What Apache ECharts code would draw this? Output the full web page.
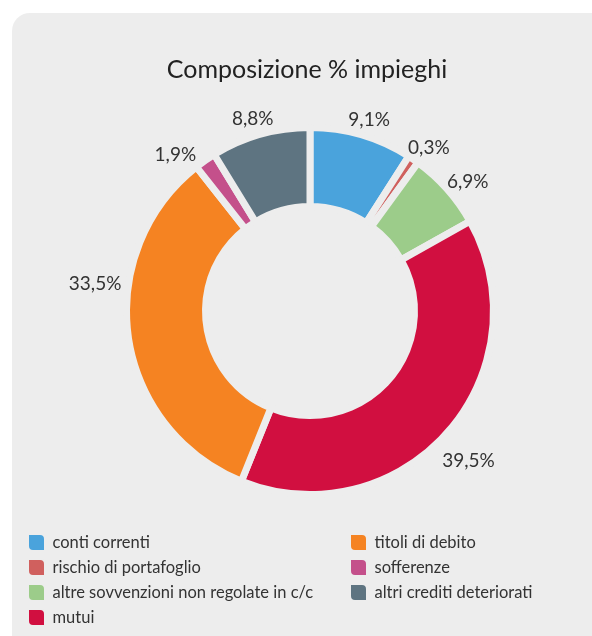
<!DOCTYPE html>
<html>
<head>
<meta charset="utf-8">
<script src="https://cdn.jsdelivr.net/npm/echarts@6/dist/echarts.min.js"></script>
<style>
html,body{margin:0;padding:0;background:#fff;}
#c{width:592px;height:636px;}
</style>
</head>
<body>
<div id="c"></div>
<script>
const titleText = 'Composizione % impieghi';
const categories = ['conti correnti','rischio di portafoglio','altre sovvenzioni non regolate in c/c','mutui','titoli di debito','sofferenze','altri crediti deteriorati'];
const values = [9.1, 0.3, 6.9, 39.5, 33.5, 1.9, 8.8];
const palette = ['#4aa3dc','#d0605e','#9ccc8a','#d10f40','#f58322','#c4508b','#5e7481'];

const FONT = 'Lato, "Open Sans", sans-serif';
const BG = '#ededed';
// label nudges (style only) reproducing the original label placement
const labelNudge = { 'titoli di debito': [-6, -57], 'sofferenze': [-14, 17] };
const data = categories.map((n, i) => ({ name: n, value: values[i], itemStyle: { color: palette[i] } }));
const leafIcon = 'path://M0,0 L12,0 Q17,0 17,5 L17,17 L5,17 Q0,17 0,12 Z';
const fmt = p => p.value.toFixed(1).replace('.', ',') + '%';

const chart = echarts.init(document.getElementById('c'), null, { renderer: 'canvas' });
const legendBase = {
  orient: 'vertical', top: 533, height: 120, padding: 0, itemGap: 6, itemWidth: 17, itemHeight: 17,
  icon: leafIcon, selectedMode: false,
  textStyle: { fontFamily: FONT, fontSize: 16.5, color: '#333', padding: [0, 0, 0, 2.5] }
};
chart.setOption({
  animation: false,
  graphic: [
    { type: 'rect', z: -10, shape: { x: 12, y: 13, width: 640, height: 700, r: 18 }, style: { fill: BG } },
    { type: 'text', z: 10, x: 307, y: 70, style: { text: titleText, align: 'center', verticalAlign: 'middle', fontFamily: FONT, fontSize: 25, fill: '#222' } }
  ],
  legend: [
    Object.assign({ left: 27, data: categories.slice(0, 4) }, legendBase),
    Object.assign({ left: 349, data: categories.slice(4) }, legendBase)
  ],
  series: [
    {
      type: 'pie', center: [310, 311], radius: [104.5, 183.5], startAngle: 90, clockwise: true,
      minAngle: 3.5, data: data, silent: true,
      itemStyle: { borderColor: BG, borderWidth: 7 },
      label: { show: false }, labelLine: { show: false }, emphasis: { disabled: true }
    },
    {
      type: 'pie', center: [310, 311], radius: [184, 232], startAngle: 90, clockwise: true,
      minAngle: 3.5, silent: true, legendHoverLink: false,
      data: data.map(d => labelNudge[d.name]
        ? { name: d.name, value: d.value, label: { offset: labelNudge[d.name] } }
        : { name: d.name, value: d.value }),
      itemStyle: { color: 'rgba(0,0,0,0)', borderWidth: 0 },
      label: { show: true, position: 'inside', offset: [0, 11], formatter: fmt, fontFamily: FONT, fontSize: 19, color: '#333' },
      labelLine: { show: false }, emphasis: { disabled: true }
    }
  ]
});
</script>
</body>
</html>
